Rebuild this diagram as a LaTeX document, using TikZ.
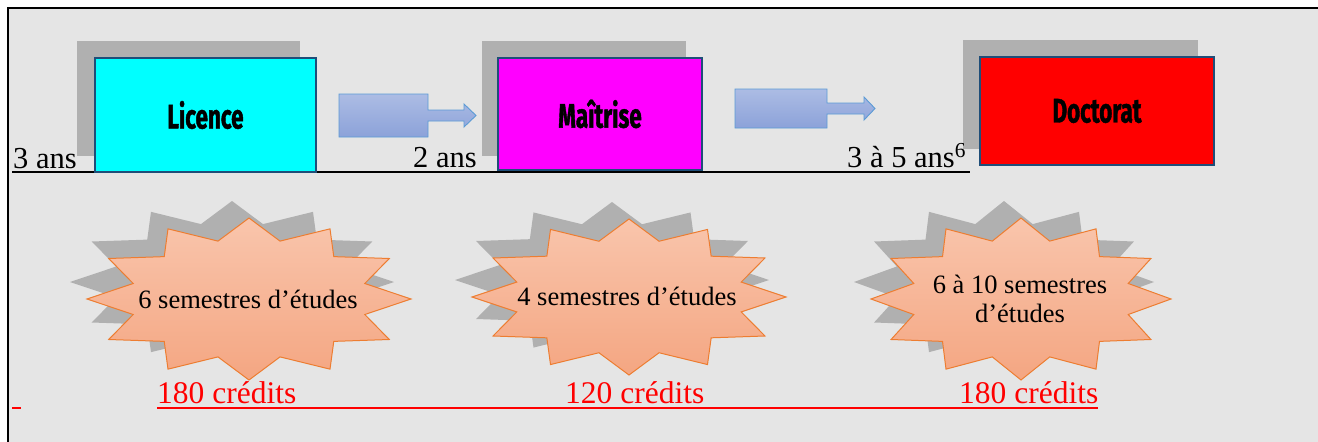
\documentclass[tikz,border=0pt]{standalone}
\usepackage{fontspec}
\setmainfont{Liberation Serif}
\newfontfamily\agency[FakeStretch=0.66,FakeBold=1.2]{Fira Sans}
\usetikzlibrary{calc}
\definecolor{bgc}{RGB}{229,229,229}
\definecolor{shadowc}{RGB}{176,176,176}
\definecolor{boxborder}{RGB}{31,78,121}
\definecolor{licc}{RGB}{0,255,255}
\definecolor{maic}{RGB}{255,0,255}
\definecolor{docc}{RGB}{255,0,0}
\definecolor{arrowtop}{RGB}{172,188,228}
\definecolor{arrowbot}{RGB}{140,162,217}
\definecolor{arrowline}{RGB}{91,155,213}
\definecolor{startop}{RGB}{249,197,172}
\definecolor{starbot}{RGB}{244,166,130}
\definecolor{starline}{RGB}{237,125,49}
\definecolor{redc}{RGB}{255,0,0}
\newcommand\burstpath[3]{%
  \path[#3] (#1,0) \foreach \k in {0,...,11}{ -- ({0.74*#1*cos(30*\k+15)},{0.74*#2*sin(30*\k+15)}) -- ({#1*cos(30*\k+30)},{#2*sin(30*\k+30)}) } -- cycle;}
\tikzset{
  levelbox/.style={draw=boxborder, line width=2pt, inner sep=0pt, font=\agency\bfseries\fontsize{34}{34}\selectfont},
  shadowbox/.style={fill=shadowc, inner sep=0pt},
  blockarrow/.style={draw=arrowline, line width=0.9pt, top color=arrowtop, bottom color=arrowbot},
  starfill/.style={draw=starline, line width=1pt, top color=startop, bottom color=starbot, line join=miter},
  starshadow/.style={fill=shadowc},
  yearlabel/.style={inner sep=0pt, font=\fontsize{30.5}{36}\selectfont},
  startext/.style={inner sep=0pt, align=center, font=\fontsize{26.5}{29}\selectfont},
  credit/.style={inner sep=0pt, text=redc, font=\fontsize{31.5}{36}\selectfont},
  blackrule/.style={draw=black, line width=1.4pt},
  redrule/.style={draw=redc, line width=1.8pt},
}
\begin{document}
\begin{tikzpicture}[x=1pt,y=-1pt]
\useasboundingbox (0,0) rectangle (1318,442);
\fill[white] (0,0) rectangle (1318,442);
\fill[bgc] (8,8) rectangle (1318,442);
\draw[line width=2.6pt] (8,442) -- (8,8) -- (1318,8);
% underline of top row
\coordinate (bl1) at (12,172);
\coordinate (bl2) at (970,172);
\draw[blackrule] (bl1) -- (bl2);
% shadows
\node[shadowbox, minimum width=223pt, minimum height=115pt] (licS) at (188.5,98.5) {};
\node[shadowbox, minimum width=204pt, minimum height=115pt] (maiS) at (584,98.5) {};
\node[shadowbox, minimum width=235pt, minimum height=109pt] (docS) at (1080.5,94.5) {};
% boxes
\node[levelbox, fill=licc, minimum width=221pt, minimum height=114pt] (lic) at (205.5,115) {Licence};
\node[levelbox, fill=maic, minimum width=204pt, minimum height=112pt] (mai) at (600,114) {Maîtrise};
\node[levelbox, fill=docc, minimum width=234pt, minimum height=108pt] (doc) at (1097,111) {Doctorat};
% block arrows
\path[blockarrow] (339,94) -- (428,94) -- (428,110) -- (464,110) -- (464,104) -- (476,115.5) -- (464,127) -- (464,121) -- (428,121) -- (428,137) -- (339,137) -- cycle;
\path[blockarrow] (735,89) -- (827,89) -- (827,103) -- (864,103) -- (864,97) -- (875,108.5) -- (864,120) -- (864,114) -- (827,114) -- (827,128) -- (735,128) -- cycle;
% year labels
\node[yearlabel, anchor=base west] (y1) at (13,168) {3 ans};
\node[yearlabel, anchor=base west] (y2) at (413,167) {2 ans};
\node[yearlabel, anchor=base west] (y3) at (847,167) {3 à 5 ans\textsuperscript{6}};
% stars
\begin{scope}[shift={(232,282)}]\burstpath{162}{81}{starshadow}\end{scope}
\begin{scope}[shift={(249,299)}]\burstpath{162}{81}{starfill}\end{scope}
\begin{scope}[shift={(612,280)}]\burstpath{157}{78}{starshadow}\end{scope}
\begin{scope}[shift={(629,297)}]\burstpath{157}{78}{starfill}\end{scope}
\begin{scope}[shift={(1004,282)}]\burstpath{150}{81}{starshadow}\end{scope}
\begin{scope}[shift={(1021,299)}]\burstpath{150}{81}{starfill}\end{scope}
\node[startext, anchor=base] (s1) at (248,308) {6 semestres d’études};
\node[startext, anchor=base] (s2) at (627,305) {4 semestres d’études};
\node[startext, anchor=base] (s3) at (1020,322) {6 à 10 semestres\\d’études};
% credits
\node[credit, anchor=base west] (c1) at (157,403) {180 crédits};
\node[credit, anchor=base west] (c2) at (565,403) {120 crédits};
\node[credit, anchor=base west] (c3) at (959,403) {180 crédits};
\coordinate (r1) at (157,408);
\coordinate (r2) at (1098,408);
\coordinate (d1) at (12,408);
\coordinate (d2) at (21,408);
\draw[redrule] (r1) -- (r2);
\draw[redrule] (d1) -- (d2);
\end{tikzpicture}
\end{document}
